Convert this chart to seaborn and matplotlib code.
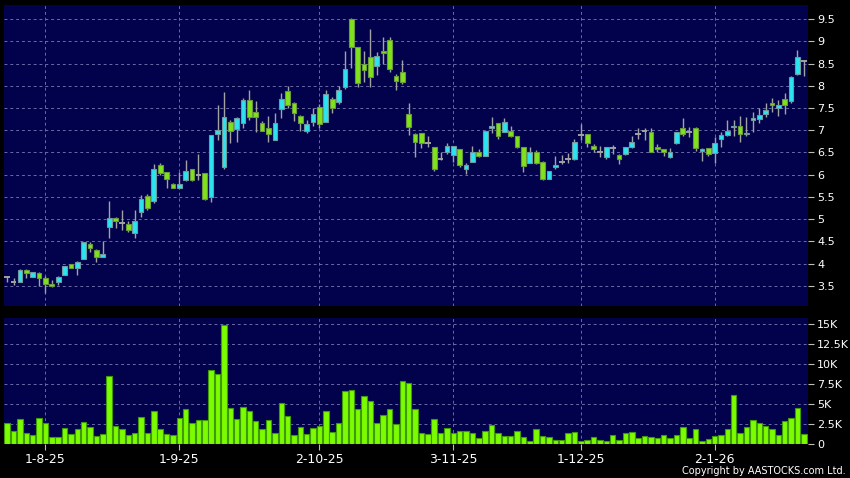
import numpy as np
import pandas as pd
import matplotlib
matplotlib.use("Agg")
import matplotlib.pyplot as plt
import seaborn as sns

# ---------------- data ----------------
opens = [3.70, 3.58, 3.58, 3.87, 3.71, 3.80, 3.67, 3.55, 3.58, 3.74,
         3.99, 3.91, 4.10, 4.45, 4.31, 4.16, 4.83, 5.02, 4.92, 4.89,
         4.68, 5.16, 5.53, 5.40, 6.22, 6.06, 5.79, 5.70, 5.88, 6.12,
         6.00, 6.03, 5.49, 6.91, 6.18, 7.19, 7.02, 7.16, 7.68, 7.40,
         7.16, 7.05, 6.78, 7.47, 7.89, 7.61, 7.33, 6.99, 7.19, 7.52,
         7.19, 7.70, 7.64, 7.98, 9.49, 8.86, 8.50, 8.64, 8.44, 8.78,
         9.03, 8.22, 8.31, 7.36, 6.92, 6.93, 6.72, 6.62, 6.35, 6.50,
         6.44, 6.57, 6.14, 6.29, 6.52, 6.43, 7.04, 7.16, 6.95, 6.98,
         6.87, 6.62, 6.26, 6.52, 6.28, 5.91, 6.17, 6.29, 6.35, 6.35,
         6.90, 6.91, 6.65, 6.52, 6.41, 6.60, 6.45, 6.46, 6.62, 6.91,
         6.98, 6.96, 6.63, 6.57, 6.41, 6.71, 7.06, 6.96, 7.06, 6.53,
         6.59, 6.48, 6.80, 6.90, 7.07, 7.10, 6.91, 7.23, 7.25, 7.37,
         7.62, 7.51, 7.70, 7.66, 8.26, 8.56]
highs = [3.73, 3.67, 3.89, 3.89, 3.82, 3.81, 3.72, 3.63, 3.72, 3.96,
         4.00, 4.07, 4.49, 4.48, 4.32, 4.50, 5.41, 5.04, 5.20, 4.96,
         5.21, 5.55, 5.56, 6.25, 6.27, 6.06, 5.82, 6.06, 6.34, 6.14,
         6.46, 6.05, 6.89, 7.57, 7.87, 7.23, 7.30, 7.72, 7.90, 7.66,
         7.20, 7.32, 7.38, 7.83, 7.99, 7.63, 7.35, 7.23, 7.50, 7.60,
         7.90, 7.74, 8.00, 8.77, 9.52, 8.88, 8.79, 9.28, 8.76, 9.09,
         9.09, 8.26, 8.59, 7.62, 6.93, 6.94, 6.86, 6.62, 6.52, 6.71,
         6.65, 6.58, 6.26, 6.65, 6.58, 6.99, 7.30, 7.17, 7.27, 7.10,
         6.88, 6.62, 6.62, 6.55, 6.30, 6.08, 6.42, 6.45, 6.48, 6.80,
         7.14, 6.92, 6.69, 6.65, 6.62, 6.66, 6.46, 6.63, 6.86, 7.06,
         7.06, 7.06, 6.70, 6.58, 6.60, 6.97, 7.27, 7.08, 7.07, 6.60,
         6.60, 6.84, 6.97, 7.22, 7.22, 7.31, 7.29, 7.42, 7.49, 7.62,
         7.72, 7.68, 7.83, 8.22, 8.80, 8.58]
lows = [3.60, 3.52, 3.58, 3.67, 3.71, 3.50, 3.35, 3.48, 3.52, 3.74,
        3.91, 3.75, 4.10, 4.27, 4.05, 4.15, 4.58, 4.80, 4.75, 4.72,
        4.57, 5.05, 5.20, 5.36, 6.00, 5.70, 5.70, 5.70, 5.85, 5.85,
        5.88, 5.44, 5.38, 6.78, 6.13, 6.72, 6.74, 7.04, 7.22, 6.97,
        6.99, 6.74, 6.78, 7.27, 7.50, 7.20, 6.99, 6.94, 7.10, 7.05,
        7.19, 7.38, 7.60, 7.92, 8.39, 7.98, 8.09, 7.98, 8.24, 8.50,
        8.30, 7.90, 8.05, 6.89, 6.39, 6.59, 6.63, 6.09, 6.33, 6.47,
        6.29, 6.17, 6.01, 6.29, 6.39, 6.43, 6.93, 6.80, 6.95, 6.84,
        6.59, 6.07, 6.26, 6.25, 5.88, 5.90, 6.14, 6.24, 6.26, 6.33,
        6.78, 6.63, 6.52, 6.41, 6.35, 6.47, 6.24, 6.44, 6.60, 6.80,
        6.78, 6.50, 6.50, 6.42, 6.37, 6.69, 6.86, 6.84, 6.53, 6.32,
        6.42, 6.26, 6.62, 6.88, 6.86, 6.74, 6.86, 6.96, 7.16, 7.29,
        7.42, 7.33, 7.37, 7.61, 8.24, 8.22]
closes = [3.70, 3.58, 3.87, 3.80, 3.81, 3.69, 3.55, 3.50, 3.70, 3.94,
          3.91, 4.05, 4.48, 4.35, 4.16, 4.21, 5.02, 4.95, 4.92, 4.76,
          4.96, 5.46, 5.25, 6.14, 6.03, 5.90, 5.70, 5.79, 6.08, 5.88,
          6.00, 5.46, 6.89, 7.00, 7.29, 6.99, 7.27, 7.68, 7.30, 7.29,
          6.99, 6.91, 7.16, 7.70, 7.57, 7.38, 7.16, 7.14, 7.36, 7.13,
          7.81, 7.49, 7.90, 8.38, 8.86, 8.06, 8.35, 8.19, 8.67, 8.73,
          8.37, 8.11, 8.08, 7.08, 6.74, 6.72, 6.72, 6.13, 6.35, 6.65,
          6.65, 6.22, 6.22, 6.52, 6.42, 6.98, 7.10, 6.86, 7.19, 6.87,
          6.63, 6.20, 6.52, 6.27, 5.90, 6.08, 6.22, 6.29, 6.35, 6.73,
          6.90, 6.71, 6.57, 6.52, 6.62, 6.60, 6.35, 6.62, 6.73, 6.91,
          6.98, 6.52, 6.57, 6.50, 6.50, 6.97, 6.91, 6.96, 6.61, 6.58,
          6.47, 6.72, 6.89, 6.98, 7.10, 6.91, 6.94, 7.27, 7.35, 7.46,
          7.56, 7.56, 7.57, 8.19, 8.65, 8.56]
volume_k = [2.56, 1.63, 3.05, 1.38, 1.09, 3.22, 2.56, 0.84, 0.88, 1.97,
            1.25, 1.84, 2.68, 2.09, 0.92, 1.17, 8.52, 2.26, 1.80, 1.13,
            1.34, 3.30, 1.34, 4.10, 1.88, 1.21, 1.09, 3.26, 4.31, 2.59,
            2.97, 3.00, 9.24, 8.69, 14.87, 4.43, 3.13, 4.60, 4.06, 2.80,
            1.88, 2.93, 1.38, 5.06, 3.47, 1.13, 2.13, 1.21, 2.00, 2.18,
            4.10, 1.50, 2.59, 6.56, 6.77, 4.35, 5.98, 5.39, 2.63, 3.60,
            4.35, 2.50, 7.82, 7.65, 4.35, 1.29, 1.21, 3.10, 1.40, 2.00,
            1.30, 1.60, 1.60, 1.40, 0.70, 1.60, 2.40, 1.30, 1.00, 1.00,
            1.60, 0.80, 0.40, 1.80, 1.00, 0.90, 0.50, 0.50, 1.40, 1.50,
            0.40, 0.50, 0.90, 0.50, 0.40, 1.10, 0.50, 1.40, 1.50, 0.70,
            1.00, 0.80, 0.70, 1.10, 0.70, 1.10, 2.10, 0.70, 1.90, 0.40,
            0.60, 1.00, 1.10, 1.80, 6.10, 1.40, 2.10, 3.00, 2.60, 2.20,
            1.80, 1.10, 2.80, 3.20, 4.50, 1.20]
date_labels = ["1-8-25", "1-9-25", "2-10-25", "3-11-25", "1-12-25", "2-1-26"]
date_positions = [6, 27, 49, 70, 90, 111]
price_ticks = [3.5, 4, 4.5, 5, 5.5, 6, 6.5, 7, 7.5, 8, 8.5, 9, 9.5]
price_tick_labels = ["3.5", "4", "4.5", "5", "5.5", "6", "6.5", "7", "7.5", "8", "8.5", "9", "9.5"]
volume_ticks = [0, 2.5, 5, 7.5, 10, 12.5, 15]
volume_tick_labels = ["0", "2.5K", "5K", "7.5K", "10K", "12.5K", "15K"]

# ---------------- styling ----------------
sns.set_style("dark")
plt.rcParams['font.family'] = ['DejaVu Sans']

FIG_BG = "#000000"
PANEL_BG = "#02024c"
GRID = "#6a6aa6"
CYAN = "#2ae4f0"
CYAN_EDGE = "#6f9aa0"
GREEN = "#7fe21c"
GREEN_EDGE = "#6a9a3a"
WICK = "#a2a2a2"
VOL_GREEN = "#7cfc00"
VOL_EDGE = "#3f9a08"

df = pd.DataFrame({
    "idx": np.arange(len(opens)),
    "open": opens, "high": highs, "low": lows, "close": closes,
    "volume": volume_k,
})

W, H = 850, 478
fig = plt.figure(figsize=(W / 100, H / 100), dpi=100, facecolor=FIG_BG)
ax1 = fig.add_axes([4 / W, 1 - 306 / H, 804 / W, 301 / H])
ax2 = fig.add_axes([4 / W, 1 - 443.7 / H, 804 / W, 125.7 / H])

for ax in (ax1, ax2):
    ax.set_facecolor(PANEL_BG)
    for s in ax.spines.values():
        s.set_visible(False)
    ax.grid(True, color=GRID, linestyle=(0, (3, 3)), linewidth=0.7)
    ax.set_axisbelow(True)

# ---------------- candles ----------------
up = df[df.close > df.open]
down = df[df.close < df.open]
doji = df[df.close == df.open]

ax1.vlines(df.idx, df.low, df.high, color=WICK, linewidth=1.0, zorder=2)
ax1.bar(up.idx, up.close - up.open, bottom=up.open, width=0.74,
        color=CYAN, edgecolor=CYAN_EDGE, linewidth=0.8, zorder=3)
ax1.bar(down.idx, down.open - down.close, bottom=down.close, width=0.74,
        color=GREEN, edgecolor=GREEN_EDGE, linewidth=0.8, zorder=3)
ax1.hlines(doji.close, doji.idx - 0.45, doji.idx + 0.45, color=WICK,
           linewidth=1.4, zorder=3)

ax1.set_xlim(-0.5, 125.65)
ax1.set_ylim(3.05, 9.815)
ax1.set_xticks(date_positions)
ax1.tick_params(axis="x", length=0, labelbottom=False)
ax1.yaxis.tick_right()
ax1.set_yticks(price_ticks, price_tick_labels)
ax1.tick_params(axis="y", colors="#bdbdbd", labelcolor="white", length=4,
                width=0.8, pad=2.5, labelsize=8)
ax1.set_xlabel("")
ax1.set_ylabel("")

# ---------------- volume ----------------
sns.barplot(data=df, x="idx", y="volume", ax=ax2, color=VOL_GREEN,
            saturation=1, width=0.86, edgecolor=VOL_EDGE, linewidth=0.8,
            native_scale=True, zorder=3)
ax2.set_xlim(-0.5, 125.65)
ax2.set_ylim(0, 15.75)
ax2.yaxis.tick_right()
ax2.set_yticks(volume_ticks, volume_tick_labels)
ax2.set_xticks(date_positions, date_labels)
ax2.tick_params(axis="y", colors="#bdbdbd", labelcolor="white", length=4,
                width=0.8, pad=2.5, labelsize=8)
ax2.tick_params(axis="x", colors="#bdbdbd", labelcolor="white", length=4,
                width=0.8, pad=3, labelsize=9, bottom=True)
ax2.set_xlabel("")
ax2.set_ylabel("")

fig.text(846 / W, 1 - 471 / H, "Copyright by AASTOCKS.com Ltd.", ha="right",
         va="center", color="white", fontsize=7)

fig.savefig("out.png", dpi=100, facecolor=FIG_BG)
